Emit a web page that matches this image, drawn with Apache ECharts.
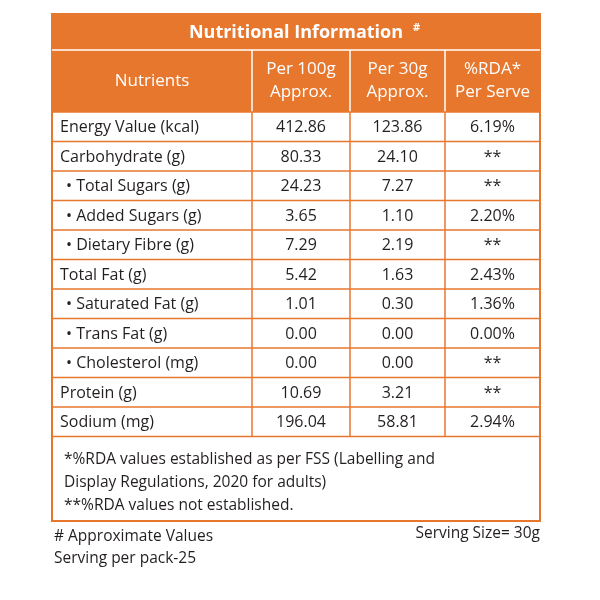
<!DOCTYPE html>
<html><head><meta charset="utf-8">
<script src="https://cdn.jsdelivr.net/npm/echarts@6/dist/echarts.min.js"></script>
<style>html,body{margin:0;padding:0;background:#fff}#c{width:600px;height:600px}</style>
</head><body><div id="c"></div>
<script>
const title = "Nutritional Information";
const headers = ["Nutrients", "Per 100g\nApprox.", "Per 30g\nApprox.", "%RDA*\nPer Serve"];
const nutrients = ["Energy Value (kcal)", "Carbohydrate (g)", "• Total Sugars (g)", "• Added Sugars (g)", "• Dietary Fibre (g)", "Total Fat (g)", "• Saturated Fat (g)", "• Trans Fat (g)", "• Cholesterol (mg)", "Protein (g)", "Sodium (mg)"];
const indented = [false, false, true, true, true, false, true, true, true, false, false];
const per100g = ["412.86", "80.33", "24.23", "3.65", "7.29", "5.42", "1.01", "0.00", "0.00", "10.69", "196.04"];
const per30g = ["123.86", "24.10", "7.27", "1.10", "2.19", "1.63", "0.30", "0.00", "0.00", "3.21", "58.81"];
const rda = ["6.19%", "**", "**", "2.20%", "**", "2.43%", "1.36%", "0.00%", "**", "**", "2.94%"];
const footnote = "*%RDA values established as per FSS (Labelling and\nDisplay Regulations, 2020 for adults)\n**%RDA values not established.";
const bottomLeft = "# Approximate Values\nServing per pack-25";
const bottomRight = "Serving Size= 30g";

const OR = "#E8772E", TXT = "#231f20", FONT = "'Open Sans', sans-serif";
const colX = [52, 252, 350, 445, 540];
const tTop = 14, titleH = 36, headH = 62, rowH = 29.5;
const g = [];
const rowsTop = tTop + titleH + headH;
const tableBottom = rowsTop + rowH * nutrients.length;
g.push({type:'rect', shape:{x:colX[0], y:tTop, width:colX[4]-colX[0], height:521-tTop}, style:{fill:'#fff', stroke:OR, lineWidth:2}});
g.push({type:'rect', shape:{x:colX[0], y:tTop, width:colX[4]-colX[0], height:titleH+headH}, style:{fill:OR}});
g.push({type:'text', x:(colX[0]+colX[4])/2, y:tTop+titleH/2+1, style:{text:title, fill:'#fff', font:"bold 18px "+FONT, align:'center', verticalAlign:'middle'}});
g.push({type:'text', x:413, y:tTop+8, style:{text:'#', fill:'#fff', font:"bold 11px "+FONT}});
g.push({type:'line', shape:{x1:colX[0], y1:tTop+titleH, x2:colX[4], y2:tTop+titleH}, style:{stroke:'#fff', lineWidth:1.5}});
for (let i=1;i<4;i++) g.push({type:'line', shape:{x1:colX[i], y1:tTop+titleH, x2:colX[i], y2:rowsTop}, style:{stroke:'#fff', lineWidth:1.5}});
headers.forEach((h,i)=>g.push({type:'text', x:(colX[i]+colX[i+1])/2, y:tTop+titleH+headH/2, style:{text:h, fill:'#fff', font:"17px "+FONT, align:'center', verticalAlign:'middle', lineHeight:23}}));
for (let r=0;r<=nutrients.length;r++) g.push({type:'line', shape:{x1:colX[0], y1:rowsTop+r*rowH, x2:colX[4], y2:rowsTop+r*rowH}, style:{stroke:OR, lineWidth:1.5}});
for (let i=1;i<4;i++) g.push({type:'line', shape:{x1:colX[i], y1:rowsTop, x2:colX[i], y2:tableBottom}, style:{stroke:OR, lineWidth:1.5}});
const cols = [per100g, per30g, rda];
nutrients.forEach((n,r)=>{
  const cy = rowsTop + r*rowH + rowH/2 + 1;
  g.push({type:'text', x:colX[0]+(indented[r]?14:8), y:cy, style:{text:n, fill:TXT, font:"16px "+FONT, verticalAlign:'middle'}});
  cols.forEach((c,i)=>g.push({type:'text', x:(colX[i+1]+colX[i+2])/2, y:cy, style:{text:c[r], fill:TXT, font:"16px "+FONT, align:'center', verticalAlign:'middle'}}));
});
g.push({type:'text', x:colX[0]+12, y:tableBottom+12, style:{text:footnote, fill:TXT, font:"15.5px "+FONT, lineHeight:23}});
g.push({type:'text', x:colX[0]+2, y:526, style:{text:bottomLeft, fill:TXT, font:"15.5px "+FONT, lineHeight:22}});
g.push({type:'text', x:colX[4], y:526, style:{text:bottomRight, fill:TXT, font:"15.5px "+FONT, align:'right'}});
echarts.init(document.getElementById('c')).setOption({animation:false, graphic:g});
</script></body></html>
